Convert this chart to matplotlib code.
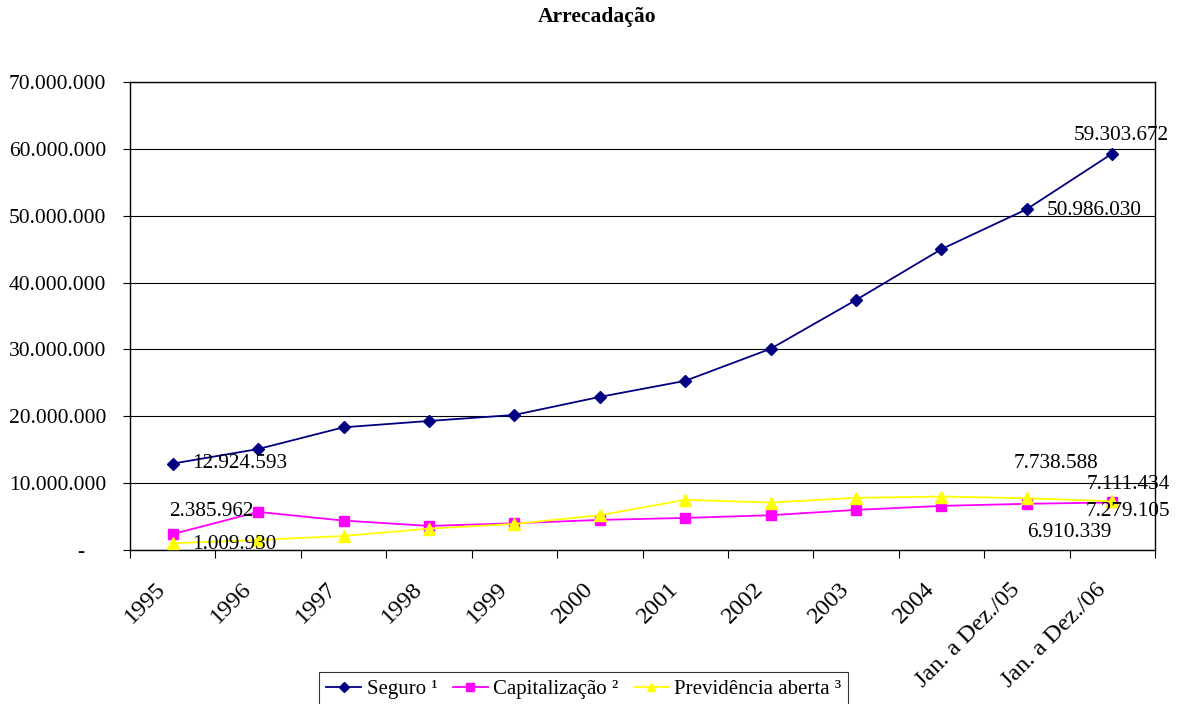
import matplotlib
matplotlib.use("Agg")
import matplotlib.pyplot as plt
from matplotlib.ticker import FuncFormatter, FixedLocator
import matplotlib.transforms as mtransforms

categories = ["1995", "1996", "1997", "1998", "1999", "2000", "2001", "2002",
              "2003", "2004", "Jan. a Dez./05", "Jan. a Dez./06"]
seguro = [12924593, 15100000, 18350000, 19300000, 20200000, 22900000, 25300000,
          30100000, 37400000, 45000000, 50986030, 59303672]
capitalizacao = [2385962, 5700000, 4400000, 3600000, 4000000, 4500000, 4800000,
                 5200000, 6000000, 6600000, 6910339, 7111434]
previdencia = [1009930, 1500000, 2100000, 3200000, 3900000, 5200000, 7500000,
               7100000, 7800000, 8000000, 7738588, 7279105]
series_names = ["Seguro \u00b9", "Capitaliza\u00e7\u00e3o \u00b2", "Previd\u00eancia aberta \u00b3"]
title = "Arrecada\u00e7\u00e3o"
yticks = [0, 10000000, 20000000, 30000000, 40000000, 50000000, 60000000, 70000000]

plt.rcParams['font.family'] = ['Liberation Serif', 'DejaVu Serif']

W, H = 1181, 704
fig = plt.figure(figsize=(W / 100, H / 100), dpi=100)
ax = fig.add_axes([130 / W, 1 - 550 / H, (1155 - 130) / W, (550 - 82) / H])

x = list(range(len(categories)))
ax.plot(x, seguro, color="#000080", marker="D", markersize=6, linewidth=1.3,
        label=series_names[0], zorder=3)
ax.plot(x, capitalizacao, color="#FF00FF", marker="s", markersize=7, linewidth=1.3,
        label=series_names[1], zorder=3)
ax.plot(x, previdencia, color="#FFFF00", marker="^", markersize=8, linewidth=1.3,
        label=series_names[2], zorder=4)

ax.set_xlim(-0.5, len(categories) - 0.5)
ax.set_ylim(0, 70000000)
ax.yaxis.set_major_locator(FixedLocator(yticks))


def fmt(v, pos):
    if v == 0:
        return "-    "
    return f"{int(v):,}".replace(",", ".")


ax.yaxis.set_major_formatter(FuncFormatter(fmt))
ax.grid(axis="y", color="black", linewidth=0.8)
ax.set_axisbelow(True)
for s in ax.spines.values():
    s.set_color("black")
    s.set_linewidth(1.0)

ax.tick_params(axis="y", direction="out", length=5, width=0.8, pad=12, labelsize=15.5)

# x: labels at centers, tick marks at boundaries
ax.set_xticks(x)
ax.set_xticklabels(categories, rotation=45, ha="right", va="center",
                   rotation_mode="anchor", fontsize=17.5)
ax.tick_params(axis="x", which="major", length=0, pad=26)
ax.set_xticks([i - 0.5 for i in range(len(categories) + 1)], minor=True)
ax.tick_params(axis="x", which="minor", direction="out", length=6, width=0.8)
off = mtransforms.ScaledTranslation(-10 / 100, 0, fig.dpi_scale_trans)
for lab in ax.get_xticklabels():
    lab.set_transform(lab.get_transform() + off)

fig.text(597 / W, 1 - 17 / H, title, ha="center", va="center",
         fontsize=15.5, fontweight="bold")

px = 0.72  # px -> points at 100 dpi


def lbl(i, v, dx, dy, ha="left"):
    ax.annotate(f"{v:,}".replace(",", "."), xy=(i, v), xytext=(dx * px, -dy * px),
                textcoords="offset points", ha=ha, va="center", fontsize=15.3, zorder=5)


lbl(0, seguro[0], 19, 0)
lbl(0, capitalizacao[0], 39, -23, ha="center")
lbl(0, previdencia[0], 19, 1)
lbl(11, seguro[11], 9, -18, ha="center")
lbl(10, seguro[10], 20, 1)
lbl(10, previdencia[10], 29, -35, ha="center")
lbl(10, capitalizacao[10], 42, 29, ha="center")
lbl(11, capitalizacao[11], 16, -18, ha="center")
lbl(11, previdencia[11], 16, 10, ha="center")

leg = fig.legend(loc="upper left", bbox_to_anchor=(319 / W, 1 - 672 / H), ncol=3,
                 frameon=True, fancybox=False, edgecolor="black", fontsize=15,
                 handlelength=1.68, columnspacing=0.75, handletextpad=0.25,
                 borderpad=0.35, borderaxespad=0, markerscale=0.8)
leg.get_frame().set_linewidth(0.8)

fig.savefig("out.png", dpi=100)
